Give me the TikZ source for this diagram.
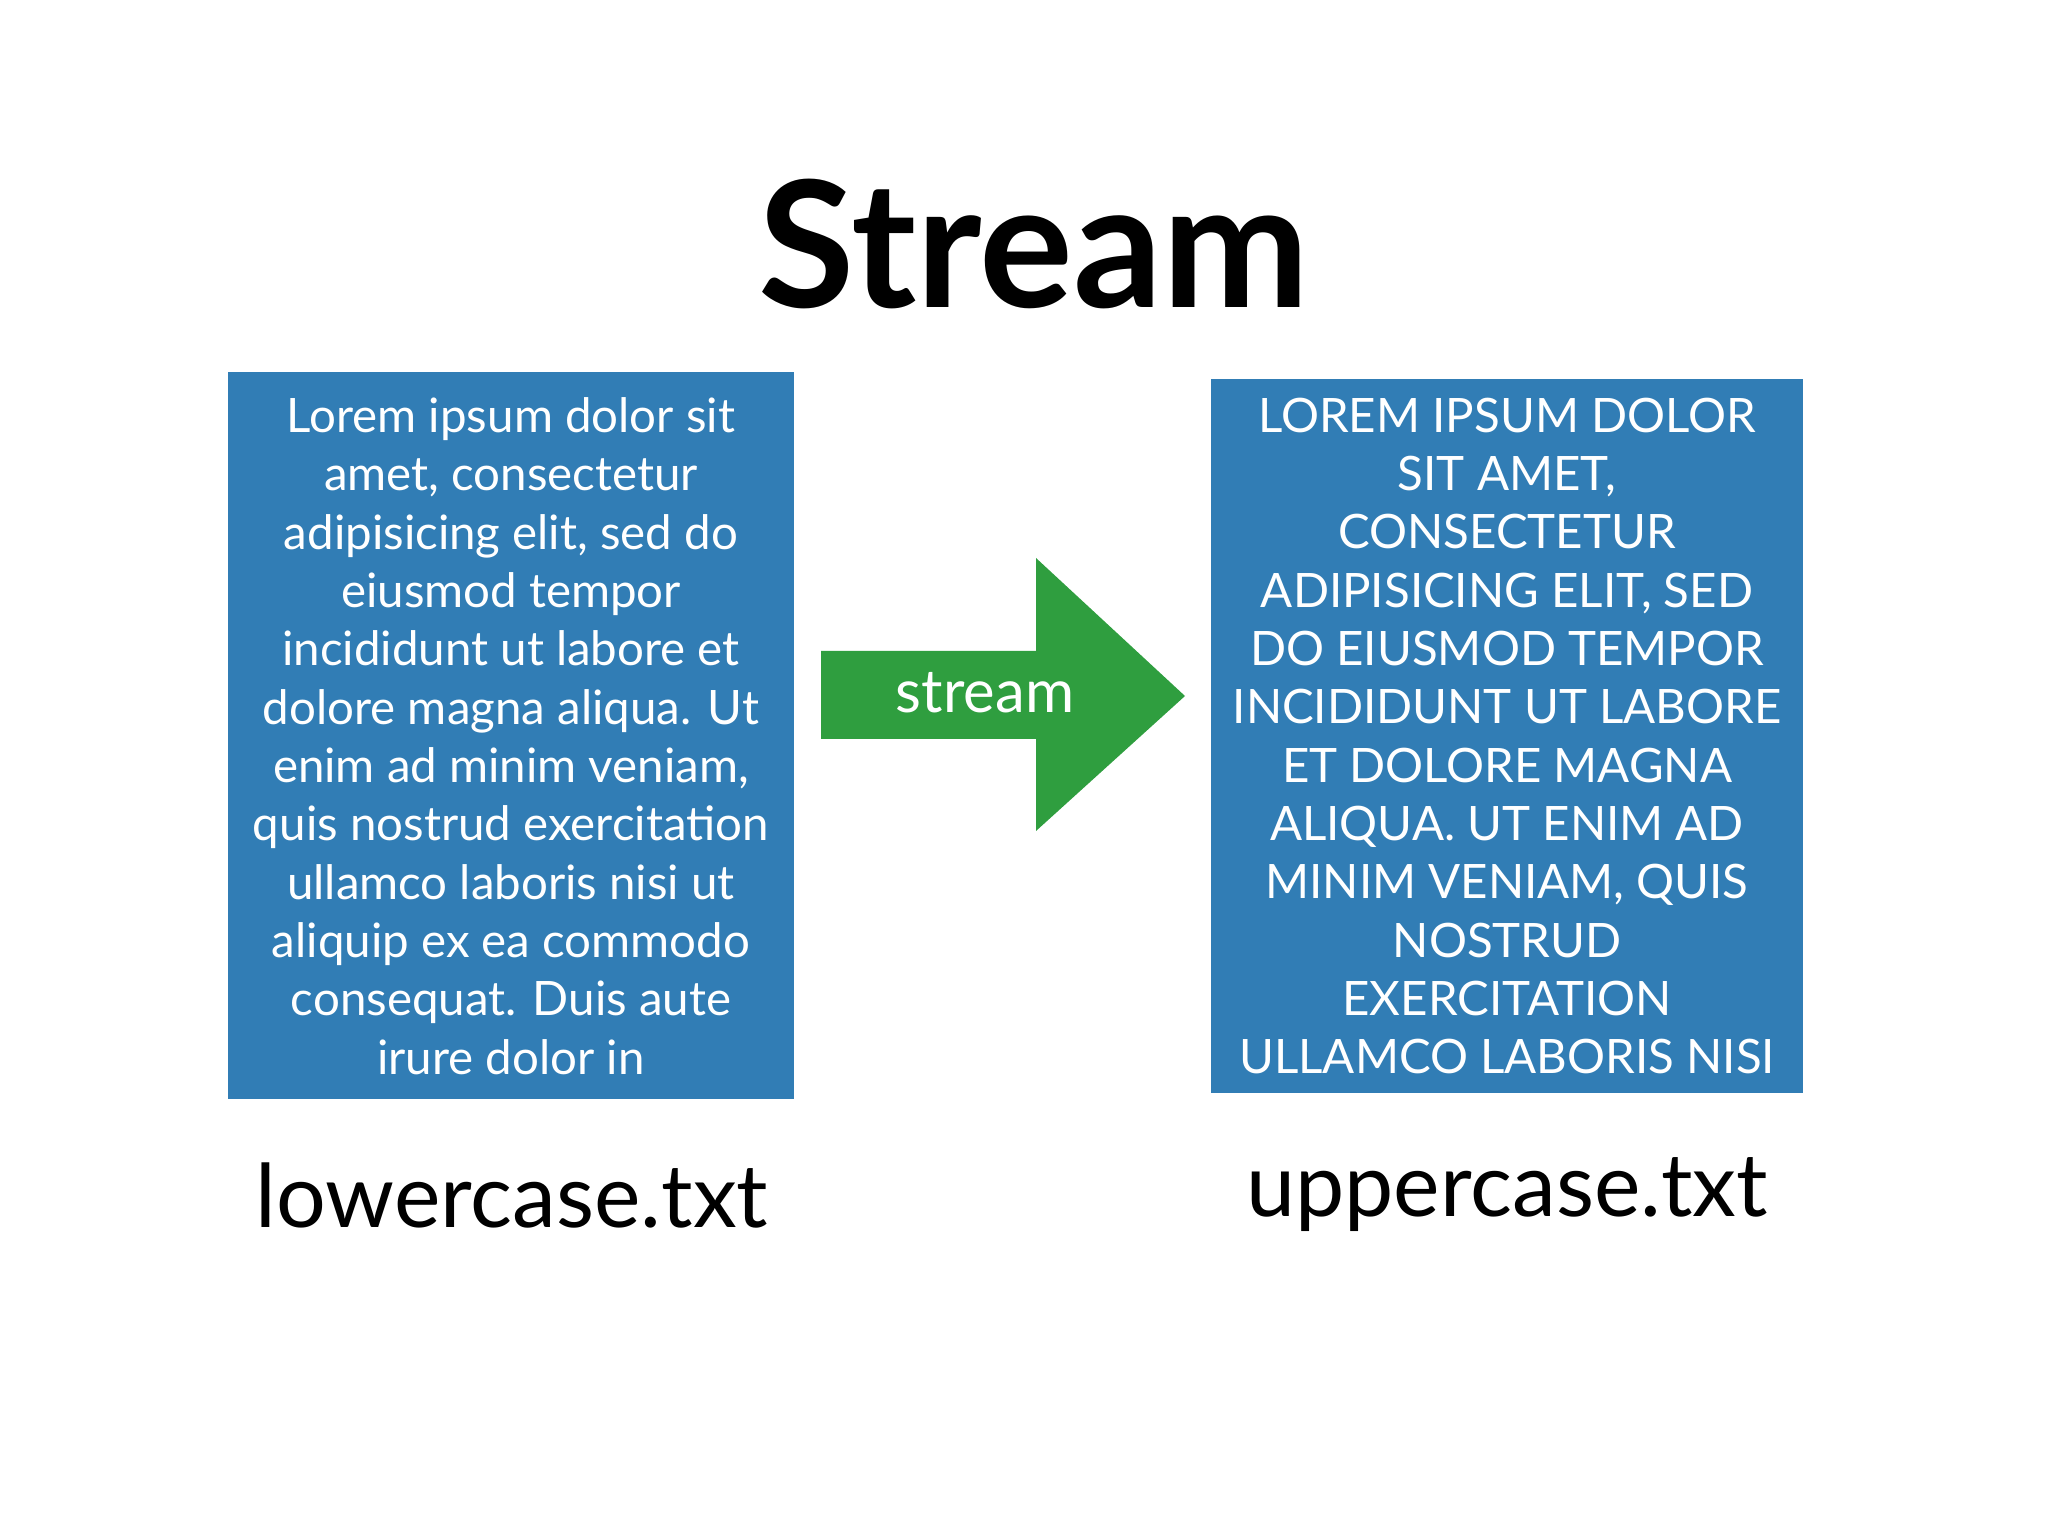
\documentclass[tikz,border=0pt]{standalone}
\usepackage{fontspec}
\setmainfont{Lato}
\definecolor{boxblue}{HTML}{317DB5}
\definecolor{arrgreen}{HTML}{2F9E3F}
\begin{document}
\begin{tikzpicture}[x=1cm,y=-1cm,
  page/.style={fill=boxblue,draw=none,drop shadow/.try},
  boxtext/.style={text=white,align=center,font=\fontsize{13.5}{16.6}\selectfont,inner sep=0pt},
  lbl/.style={font=\fontsize{25}{30}\selectfont,inner sep=0pt}]
\useasboundingbox (0,0) rectangle (20.48,15.36);
\node[font=\fontsize{50}{60}\selectfont\bfseries,inner sep=0pt] (title) at (10.34,2.44) {Stream};
\fill[boxblue] (2.28,3.72) rectangle (7.94,10.99);
\node[boxtext] (ltxt) at (5.11,7.36) {Lorem ipsum dolor sit\\amet, consectetur\\adipisicing elit, sed do\\eiusmod tempor\\incididunt ut labore et\\dolore magna aliqua. Ut\\enim ad minim veniam,\\quis nostrud exercitation\\ullamco laboris nisi ut\\aliquip ex ea commodo\\consequat. Duis aute\\irure dolor in};
\fill[boxblue] (12.11,3.79) rectangle (18.03,10.93);
\node[boxtext] (rtxt) at (15.07,7.36) {LOREM IPSUM DOLOR\\SIT AMET,\\CONSECTETUR\\ADIPISICING ELIT, SED\\DO EIUSMOD TEMPOR\\INCIDIDUNT UT LABORE\\ET DOLORE MAGNA\\ALIQUA. UT ENIM AD\\MINIM VENIAM, QUIS\\NOSTRUD\\EXERCITATION\\ULLAMCO LABORIS NISI};
\fill[arrgreen] (8.21,6.51) -- (10.36,6.51) -- (10.36,5.58) -- (11.85,6.96) -- (10.36,8.31) -- (10.36,7.39) -- (8.21,7.39) -- cycle;
\node[text=white,font=\fontsize{17}{20}\selectfont,inner sep=0pt] (arr) at (9.85,6.93) {stream};
\node[lbl] (l1) at (5.12,11.95) {lowercase.txt};
\node[lbl] (l2) at (15.07,11.95) {uppercase.txt};
\end{tikzpicture}
\end{document}
